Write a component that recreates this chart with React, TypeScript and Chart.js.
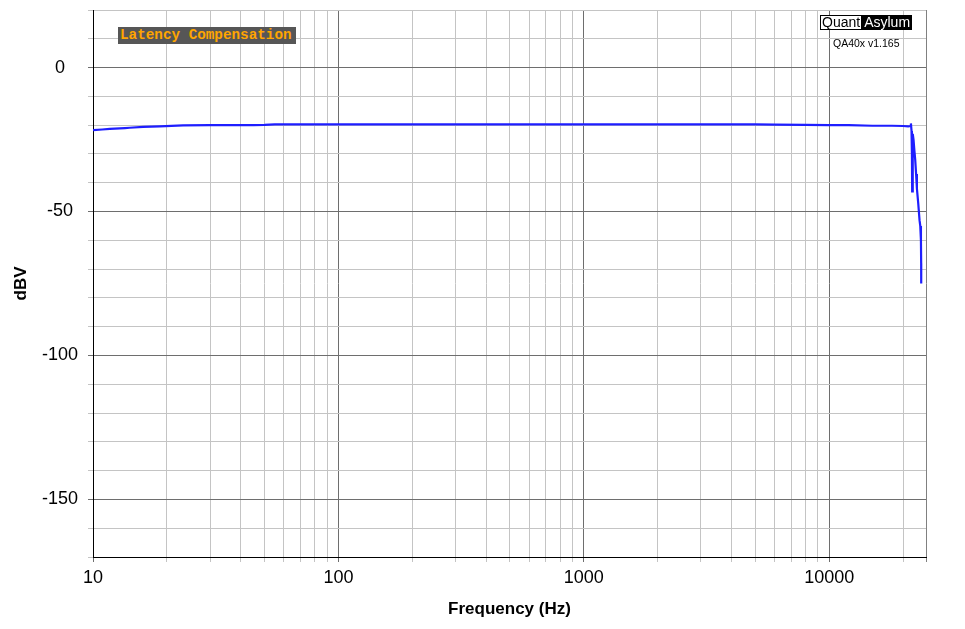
import React, { useEffect, useRef } from "react";
import { Chart, registerables } from "chart.js";

Chart.register(...registerables);

const freqs = [
  10, 10.9, 11.7, 13.5, 14.1, 16, 18.7, 23.3, 30, 45, 50, 55, 70, 100, 300,
  1000, 3000, 5000, 6000, 8000, 10000, 12000, 15000, 18000, 20000, 21000,
  21400, 21530, 21650, 21730, 21780, 21850, 21950, 22060, 22250, 22410,
  22600, 22770, 23050, 23340, 23500, 23650, 23700, 23710,
];
const dbv = [
  -21.7, -21.5, -21.3, -21.0, -20.9, -20.6, -20.4, -20.1, -20.0, -20.0,
  -19.9, -19.7, -19.7, -19.7, -19.7, -19.7, -19.7, -19.7, -19.8, -19.9,
  -20.0, -20.0, -20.2, -20.2, -20.3, -20.4, -20.3, -19.4, -22, -30, -43,
  -26, -23, -25, -29, -32, -37, -42, -47, -53, -55, -60, -68, -75,
];

const xTickValues = [
  10, 20, 30, 40, 50, 60, 70, 80, 90, 100, 200, 300, 400, 500, 600, 700, 800,
  900, 1000, 2000, 3000, 4000, 5000, 6000, 7000, 8000, 9000, 10000, 20000,
  24800,
];
const xLabels = [10, 100, 1000, 10000];
const yLabels = [0, -50, -100, -150];

const isDecade = (v: number) => {
  const l = Math.log10(v);
  return Math.abs(l - Math.round(l)) < 1e-6;
};

export default function App() {
  const ref = useRef<HTMLCanvasElement>(null);
  useEffect(() => {
    document.body.style.margin = "0";
    const ctx = ref.current!.getContext("2d")!;
    const chart = new Chart(ctx, {
      type: "line",
      data: {
        datasets: [
          {
            data: freqs.map((f, i) => ({ x: f, y: dbv[i] })),
            borderColor: "#1e1eff",
            borderWidth: 2.2,
            pointRadius: 0,
            tension: 0,
          },
        ],
      },
      options: {
        responsive: false,
        animation: false,
        layout: { padding: { left: 0, top: 10, right: 39, bottom: 0 } },
        plugins: { legend: { display: false }, tooltip: { enabled: false } },
        scales: {
          x: {
            type: "logarithmic",
            min: 10,
            max: 24800,
            afterBuildTicks: (s: any) => {
              s.ticks = xTickValues.map((v) => ({ value: v }));
            },
            afterFit: (s: any) => {
              s.height = 72;
            },
            ticks: {
              autoSkip: false,
              maxRotation: 0,
              padding: 5,
              color: "#000",
              font: { family: "Liberation Sans, Arial", size: 18 },
              callback: (v: any) =>
                xLabels.includes(Number(v)) ? String(v) : "",
            },
            grid: {
              color: (c: any) =>
                c.tick && isDecade(c.tick.value)
                  ? "#6e6e6e"
                  : c.tick && c.tick.value === 24800
                  ? "#808080"
                  : "#c4c4c4",
              tickLength: 5,
              lineWidth: 1,
            },
            border: { display: true, color: "#000", width: 1 },
            title: {
              display: true,
              text: "Frequency (Hz)",
              color: "#000",
              font: { family: "Liberation Sans, Arial", size: 17, weight: "bold" },
              padding: { top: 0, bottom: 9 },
            },
          },
          y: {
            type: "linear",
            min: -170,
            max: 20,
            afterFit: (s: any) => {
              s.width = 93;
              s.paddingTop = 0;
              s.paddingBottom = 0;
            },
            ticks: {
              stepSize: 10,
              padding: 10,
              crossAlign: "center",
              color: "#000",
              font: { family: "Liberation Sans, Arial", size: 18 },
              callback: (v: any) =>
                yLabels.includes(Number(v)) ? String(v) : "",
            },
            grid: {
              color: (c: any) =>
                c.tick && c.tick.value % 50 === 0 ? "#6e6e6e" : "#c4c4c4",
              tickLength: 5,
              lineWidth: 1,
            },
            border: { display: true, color: "#000", width: 1 },
            title: {
              display: true,
              text: "dBV",
              color: "#000",
              font: { family: "Liberation Sans, Arial", size: 17, weight: "bold" },
              padding: { top: 11, bottom: 0 },
            },
          },
        },
      },
    });
    return () => chart.destroy();
  }, []);

  return (
    <div style={{ position: "fixed", left: 0, top: 0, width: 965, height: 629, background: "#fff" }}>
      <canvas ref={ref} width={965} height={629} style={{ display: "block" }} />
      <div
        style={{
          position: "absolute",
          left: 118,
          top: 27,
          height: 17,
          width: 178,
          background: "#565656",
          color: "#ffa500",
          fontFamily: "Liberation Mono, Courier New, monospace",
          fontWeight: "bold",
          fontSize: 14.3,
          lineHeight: "17px",
          paddingLeft: 2,
          boxSizing: "border-box",
          whiteSpace: "nowrap",
        }}
      >
        Latency Compensation
      </div>
      <div
        style={{
          position: "absolute",
          left: 820,
          top: 15,
          height: 15,
          display: "flex",
          fontFamily: "Liberation Sans, Arial",
          fontSize: 14,
          lineHeight: "13px",
        }}
      >
        <span style={{ border: "1px solid #000", background: "#fff", color: "#000", padding: "0 1px" }}>Quant</span>
        <span style={{ background: "#000", color: "#fff", padding: "1px 2px" }}>Asylum</span>
      </div>
      <div
        style={{
          position: "absolute",
          left: 833,
          top: 37,
          fontFamily: "Liberation Sans, Arial",
          fontSize: 10.5,
          color: "#000",
          whiteSpace: "nowrap",
        }}
      >
        QA40x v1.165
      </div>
    </div>
  );
}
